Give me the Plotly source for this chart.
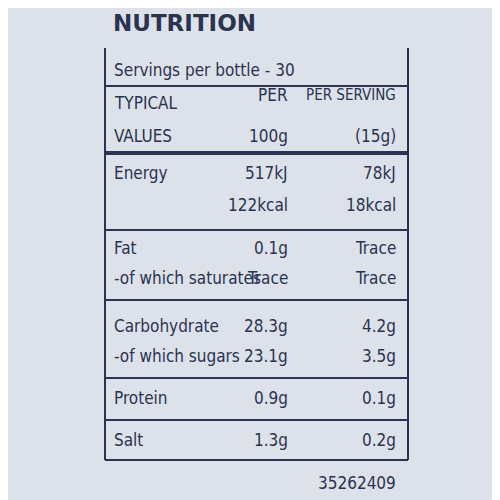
import plotly.graph_objects as go

labels = ["Servings per bottle - 30", "TYPICAL", "VALUES", "Energy", "Fat", "-of which saturates",
          "Carbohydrate", "-of which sugars", "Protein", "Salt"]
label_y = [62, 95, 128, 165, 240, 270, 318, 348, 390, 432]
per100_text = ["PER", "100g", "517kJ", "122kcal", "0.1g", "Trace", "28.3g", "23.1g", "0.9g", "1.3g"]
perserv_text = ["PER SERVING", "(15g)", "78kJ", "18kcal", "Trace", "Trace", "4.2g", "3.5g", "0.1g", "0.2g"]
value_y = [87, 128, 165, 197, 240, 270, 318, 348, 390, 432]
rule_y = [78, 145, 222, 292, 370, 412, 452]
rule_w = [2, 4, 2, 2, 2, 2, 2]
code = "35262409"

ink = "#2a3350"
font = "DejaVu Sans Condensed, sans-serif"
fig = go.Figure()
ann = [dict(x=103, y=15, text="<b>NUTRITION</b>", xanchor="left",
            font=dict(size=23, color=ink, family="DejaVu Sans, sans-serif"))]
for t, y in zip(labels, label_y):
    ann.append(dict(x=104, y=y, text=t, xanchor="left"))
for t, y in zip(per100_text, value_y):
    ann.append(dict(x=282, y=y, text=t, xanchor="right"))
for t, y in zip(perserv_text, value_y):
    ann.append(dict(x=390, y=y, text=t, xanchor="right",
                    font=dict(size=15 if t == "PER SERVING" else 17, color=ink, family=font)))
ann.append(dict(x=390, y=475, text=code, xanchor="right"))
for a in ann:
    a.setdefault("font", dict(size=17, color=ink, family=font))
    a.update(showarrow=False, yanchor="middle", xref="x", yref="y")
shapes = [dict(type="line", x0=97, x1=400, y0=y, y1=y, line=dict(color=ink, width=w))
          for y, w in zip(rule_y, rule_w)]
shapes.append(dict(type="line", x0=97, x1=97, y0=40, y1=452, line=dict(color=ink, width=2)))
shapes.append(dict(type="line", x0=400, x1=400, y0=40, y1=452, line=dict(color=ink, width=2)))
fig.update_layout(width=500, height=500, margin=dict(l=0, r=0, t=0, b=0, pad=0),
                  paper_bgcolor="#dde2ea", plot_bgcolor="#dde2ea",
                  xaxis=dict(range=[0, 500], visible=False, domain=[0, 1]),
                  yaxis=dict(range=[500, 0], visible=False, domain=[0, 1]),
                  annotations=ann, shapes=shapes, showlegend=False)
fig.write_html("out.html")
